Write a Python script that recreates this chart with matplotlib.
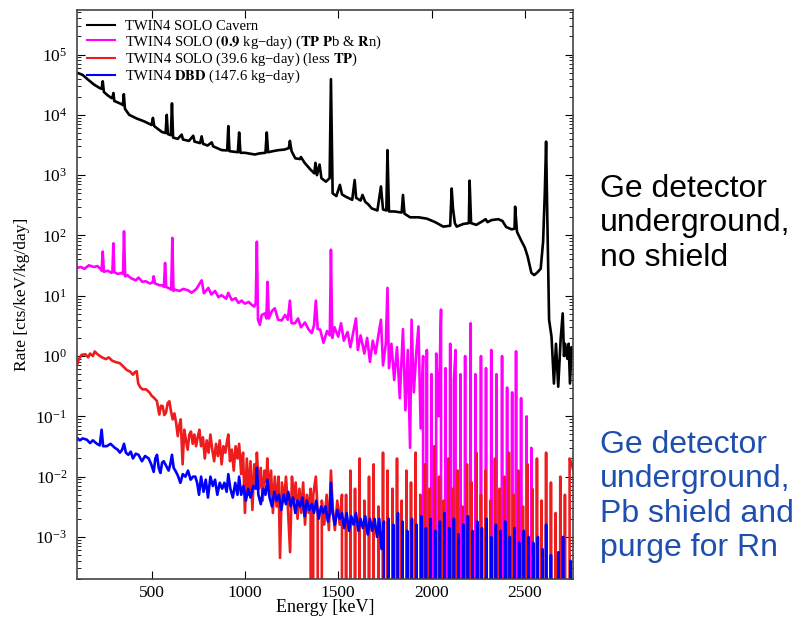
import matplotlib
matplotlib.use("Agg")
import matplotlib.pyplot as plt
import numpy as np

plt.rcParams['font.family'] = 'serif'
plt.rcParams['font.serif'] = ['Liberation Serif', 'DejaVu Serif']
plt.rcParams['mathtext.fontset'] = 'stix'

# --- spectra: energy [keV], rate [cts/keV/kg/day] ---
cavern_e = [100, 130, 161, 190, 220, 232, 238, 244, 265, 285, 290, 295, 300, 320, 340, 346, 351, 357,
            380, 420, 460, 500, 507, 514, 555, 575, 581, 587, 603, 609, 615, 640, 661, 668, 700, 723,
            730, 760, 768, 776, 800, 822, 830, 876, 905, 911, 917, 962, 969, 976, 1000, 1053, 1080,
            1110, 1117, 1124, 1150, 1180, 1210, 1235, 1241, 1250, 1270, 1295, 1300, 1320, 1352, 1372,
            1378, 1386, 1400, 1410, 1434, 1454, 1461, 1470, 1490, 1509, 1520, 1540, 1575, 1588, 1596,
            1620, 1630, 1645, 1660, 1680, 1710, 1729, 1740, 1758, 1764, 1772, 1800, 1840, 1847, 1855,
            1885, 1930, 1975, 2020, 2063, 2100, 2108, 2115, 2125, 2135, 2170, 2200, 2204, 2212, 2240,
            2270, 2290, 2300, 2322, 2358, 2380, 2400, 2430, 2445, 2448, 2458, 2480, 2500, 2515, 2535,
            2550, 2565, 2585, 2598, 2607, 2614, 2620, 2630, 2643, 2656, 2667, 2679, 2692, 2703, 2710,
            2716, 2728, 2735, 2742, 2750, 2760]
cavern_rate = [5.0e4, 4.6e4, 3.8e4, 3.2e4, 2.8e4, 2.7e4, 3.6e4, 2.4e4, 2.1e4, 1.9e4, 1.9e4, 2.3e4, 1.7e4,
               1.6e4, 1.5e4, 1.45e4, 2.2e4, 1.26e4, 1.0e4, 8.7e3, 7.8e3, 6.8e3, 8.9e3, 6.5e3, 5.2e3, 5.0e3,
               1.0e4, 4.8e3, 4.6e3, 1.55e4, 4.2e3, 4.0e3, 4.7e3, 3.9e3, 3.7e3, 4.5e3, 3.6e3, 3.4e3, 4.4e3,
               3.3e3, 3.1e3, 3.5e3, 3.0e3, 2.6e3, 2.57e3, 6.5e3, 2.5e3, 2.4e3, 5.1e3, 2.35e3, 2.35e3, 2.2e3,
               2.3e3, 2.35e3, 5.1e3, 2.4e3, 2.5e3, 2.6e3, 2.65e3, 2.8e3, 3.7e3, 2.5e3, 1.9e3, 1.85e3, 2.0e3,
               1.6e3, 1.23e3, 1.07e3, 1.6e3, 1.0e3, 1.5e3, 8.9e2, 7.8e2, 8.9e2, 3.9e4, 5.0e2, 4.5e2, 6.9e2,
               4.8e2, 4.4e2, 3.9e2, 8.3e2, 4.2e2, 3.8e2, 4.7e2, 3.6e2, 3.3e2, 2.8e2, 2.6e2, 6.5e2, 2.7e2,
               2.6e2, 2.6e3, 2.5e2, 2.5e2, 2.4e2, 4.7e2, 2.3e2, 2.0e2, 2.0e2, 1.9e2, 1.66e2, 1.4e2, 1.45e2,
               6.0e2, 2.8e2, 1.6e2, 1.4e2, 1.55e2, 1.6e2, 8.1e2, 1.6e2, 1.5e2, 1.7e2, 1.86e2, 1.66e2, 1.8e2,
               1.86e2, 1.74e2, 1.38e2, 1.26e2, 1.3e2, 3.0e2, 1.15e2, 83, 63, 45, 24, 22, 24, 28, 79, 5.0e2,
               3.6e3, 2.5e2, 4.0, 2.1, 0.35, 1.6, 0.31, 1.9, 5.1, 1.0, 1.6, 0.9, 1.6, 0.35, 1.4, 1.1]

tp_e = [100, 120, 140, 164, 190, 210, 225, 232, 238, 244, 265, 285, 290, 295, 300, 320, 340, 347, 352,
        358, 370, 390, 415, 430, 450, 468, 490, 505, 511, 518, 540, 560, 566, 572, 578, 600, 605, 611,
        617, 625, 650, 670, 695, 715, 740, 768, 780, 804, 820, 840, 858, 875, 900, 911, 929, 950, 965,
        982, 1000, 1020, 1036, 1050, 1058, 1064, 1070, 1080, 1090, 1107, 1115, 1121, 1128, 1145, 1160,
        1178, 1197, 1215, 1230, 1241, 1250, 1268, 1285, 1300, 1322, 1340, 1358, 1370, 1380, 1390, 1403,
        1421, 1440, 1455, 1461, 1468, 1480, 1500, 1515, 1530, 1550, 1565, 1580, 1595, 1605, 1620, 1640,
        1655, 1670, 1685, 1700, 1715, 1729, 1740, 1755, 1764, 1772, 1785, 1800, 1815, 1830, 1847, 1860,
        1873, 1885, 1893, 1905, 1918, 1930, 1942, 1955, 1965, 1975, 1990, 2000, 2012, 2025, 2038, 2051,
        2062, 2075, 2088, 2100, 2110, 2120, 2129, 2140, 2155, 2168, 2180, 2195, 2210, 2222, 2235, 2250,
        2265, 2278, 2292, 2305, 2320, 2335, 2348, 2362, 2378, 2392, 2405, 2418, 2432, 2445, 2453, 2462,
        2480, 2495, 2510, 2522, 2535, 2548, 2760]
tp_rate = [29, 30, 28, 32, 30, 31, 28, 26, 54, 25, 26, 24, 25, 74, 24.5, 23, 24, 23, 117, 21, 22, 19.5,
           18, 20, 17, 17.4, 16, 16.6, 21, 16, 15, 14.8, 14, 35, 14, 13, 12.6, 91, 12, 12.6, 12, 13, 12.3,
           11.2, 13, 18, 11, 13.5, 10.5, 12, 9.5, 10.2, 8.9, 11.2, 8.5, 9.1, 7.6, 8.3, 7.4, 7.9, 7.1, 6.6,
           7.6, 79, 4.0, 3.3, 4.8, 5.1, 4.2, 17, 4.2, 5.6, 6.2, 4.0, 3.9, 4.8, 4.0, 8.3, 3.5, 3.5, 4.2, 3.0,
           3.6, 2.8, 2.4, 3.2, 8.3, 2.8, 2.75, 1.66, 2.6, 2.2, 58, 2.0, 3.0, 2.1, 3.5, 1.8, 2.5, 1.4, 2.4,
           4.2, 1.26, 2.2, 1.1, 2.0, 0.8, 1.8, 1.1, 2.2, 4.0, 0.7, 1.6, 13.5, 0.63, 1.6, 0.4, 1.4, 0.2, 2.8,
           0.126, 1.26, 0.03, 4.0, 0.25, 1.1, 3.1, 0.063, 1.0, 0, 1.26, 0, 0.5, 0, 1.1, 0.1, 5.9, 0, 0.63,
           0, 1.6, 0, 0.4, 1.26, 0, 0.5, 0, 1.0, 0, 3.5, 0, 0.5, 0, 1.0, 0, 0.63, 0, 1.26, 0, 0.5, 0, 1.0,
           0, 0.3, 0, 0.25, 0, 1.2, 0, 0.2, 0, 0.1, 0, 0.03, 0, 0]

solo_e = [100, 110, 125, 145, 160, 170, 185, 195, 210, 223, 240, 255, 270, 290, 310, 330, 350, 366, 385,
          400, 410, 420, 428, 440, 452, 470, 488, 500, 515, 528, 541, 550, 559, 568, 577, 586, 595, 604,
          613, 622, 631, 640, 648, 656, 666, 675, 684, 693, 702, 711, 720, 729, 738, 747, 756, 765, 775,
          785, 795, 805, 815, 825, 835, 845, 855, 865, 875, 885, 895, 905, 911, 920, 930, 940, 950, 960,
          969, 980, 990, 1000, 1010, 1020, 1030, 1040, 1050, 1060, 1064, 1075, 1085, 1095, 1105, 1115,
          1120, 1130, 1140, 1150, 1160, 1170, 1180, 1188, 1198, 1210, 1220, 1230, 1242, 1252, 1262, 1272,
          1282, 1292, 1302, 1312, 1322, 1332, 1342, 1352, 1358, 1366, 1380, 1390, 1402, 1412, 1425, 1438,
          1450, 1461, 1470, 1482, 1495, 1508, 1520, 1530, 1542, 1555, 1565, 1578, 1590, 1602, 1615, 1628,
          1640, 1652, 1665, 1678, 1690, 1702, 1715, 1728, 1740, 1752, 1764, 1776, 1790, 1802, 1815, 1828,
          1840, 1852, 1865, 1878, 1890, 1902, 1915, 1928, 1940, 1952, 1965, 1978, 1990, 2002, 2015, 2028,
          2040, 2052, 2065, 2078, 2090, 2102, 2115, 2128, 2140, 2152, 2165, 2178, 2190, 2202, 2215, 2228,
          2240, 2252, 2265, 2278, 2290, 2302, 2315, 2328, 2340, 2352, 2365, 2378, 2390, 2402, 2415, 2428,
          2440, 2452, 2465, 2478, 2490, 2502, 2515, 2528, 2540, 2552, 2565, 2578, 2590, 2602, 2614, 2626,
          2640, 2652, 2665, 2678, 2690, 2702, 2715, 2728, 2740, 2752, 2760]
solo_rate = [0.71, 0.89, 1.05, 1.07, 0.95, 1.1, 1.0, 1.19, 1.07, 1.0, 0.93, 0.89, 0.95, 0.83, 0.79, 0.76,
             0.66, 0.59, 0.55, 0.49, 0.54, 0.56, 0.35, 0.30, 0.28, 0.28, 0.25, 0.22, 0.20, 0.18, 0.107,
             0.15, 0.148, 0.105, 0.115, 0.166, 0.178, 0.12, 0.089, 0.112, 0.079, 0.047, 0.071, 0.089,
             0.016, 0.06, 0.04, 0.028, 0.05, 0.056, 0.035, 0.05, 0.032, 0.045, 0.06, 0.032, 0.045, 0.02,
             0.04, 0.025, 0.05, 0.028, 0.018, 0.035, 0.022, 0.04, 0.016, 0.032, 0.025, 0.04, 0.05, 0.018,
             0.028, 0.0126, 0.032, 0.02, 0.035, 0.011, 0.025, 0.0025, 0.02, 0.005, 0.018, 0.0028, 0.016,
             0.01, 0.025, 0.0063, 0.014, 0.004, 0.0126, 0.008, 0.02, 0.005, 0.0126, 0.0025, 0.01, 0.0032,
             0.01, 4.5e-4, 0.008, 0.004, 0.01, 0.0032, 5.6e-4, 0.01, 0.004, 0.008, 0.002, 0.0063, 0.0025,
             0.008, 0.0016, 0.005, 0.0025, 0.0063, 0, 0.005, 0.01, 0.0025, 0, 0.004, 0.0016, 0.005, 0.0013,
             0.0126, 0.0032, 0.0013, 0.004, 0.0016, 0.005, 0, 0.005, 0, 0.0126, 0, 0.0063, 0, 0.02, 0,
             0.004, 0, 0.01, 0, 0.016, 0, 0.0032, 0, 0.025, 0, 0.0126, 0, 0.0063, 0, 0.02, 0, 0.004, 0,
             0.0126, 0, 0.008, 0, 0.025, 0, 0.005, 0, 0.016, 0, 0.0063, 0, 0.032, 0, 0.01, 0, 0.004, 0,
             0.02, 0, 0.0063, 0, 0.0126, 0, 0.0032, 0, 0.016, 0, 0.008, 0, 0.025, 0, 0.005, 0, 0.0126, 0,
             0.004, 0, 0.02, 0, 0.0063, 0, 0.01, 0, 0.025, 0, 0.005, 0, 0.0126, 0, 0.0032, 0, 0.016, 0,
             0.0063, 0, 0.02, 0, 0.004, 0, 0.025, 0, 0.008, 0, 0.0025, 0, 0.01, 0, 0.005, 0, 0.02, 0.016,
             0.0126]

dbd_e = [100, 115, 130, 153, 170, 185, 207, 222, 232, 240, 259, 280, 303, 318, 330, 342, 352, 362, 375,
         388, 400, 415, 430, 448, 465, 484, 498, 511, 520, 529, 538, 547, 556, 565, 578, 591, 600, 609,
         618, 627, 640, 654, 667, 681, 695, 709, 722, 734, 744, 754, 765, 778, 790, 802, 815, 828, 840,
         852, 865, 878, 890, 902, 911, 922, 935, 948, 960, 969, 980, 992, 1005, 1018, 1030, 1045, 1058,
         1064, 1072, 1085, 1098, 1110, 1120, 1132, 1145, 1158, 1170, 1182, 1195, 1208, 1220, 1232, 1245,
         1258, 1270, 1282, 1295, 1308, 1320, 1332, 1345, 1358, 1370, 1382, 1395, 1408, 1420, 1432, 1445,
         1455, 1461, 1470, 1482, 1495, 1508, 1520, 1532, 1545, 1558, 1570, 1582, 1595, 1608, 1620, 1632,
         1645, 1658, 1670, 1682, 1695, 1708, 1720, 1732, 1745, 1758, 1770, 1782, 1795, 1808, 1820, 1832,
         1845, 1858, 1870, 1882, 1895, 1908, 1920, 1932, 1945, 1958, 1970, 1982, 1995, 2008, 2020, 2032,
         2045, 2058, 2070, 2082, 2095, 2108, 2120, 2132, 2145, 2158, 2170, 2182, 2195, 2208, 2220, 2232,
         2245, 2258, 2270, 2282, 2295, 2308, 2320, 2332, 2345, 2358, 2370, 2382, 2395, 2408, 2420, 2432,
         2445, 2458, 2470, 2482, 2495, 2508, 2520, 2532, 2545, 2558, 2570, 2582, 2595, 2608, 2614, 2625,
         2640, 2652, 2665, 2680, 2692, 2705, 2718, 2730, 2745, 2760]
dbd_rate = [0.044, 0.040, 0.043, 0.041, 0.036, 0.040, 0.035, 0.033, 0.060, 0.032, 0.032, 0.035, 0.030,
            0.028, 0.025, 0.028, 0.035, 0.025, 0.023, 0.026, 0.020, 0.024, 0.023, 0.018, 0.022, 0.020,
            0.016, 0.012, 0.020, 0.023, 0.014, 0.0115, 0.017, 0.018, 0.015, 0.0126, 0.016, 0.023, 0.014,
            0.0126, 0.0105, 0.0079, 0.011, 0.010, 0.0126, 0.0089, 0.010, 0.010, 0.0079, 0.005, 0.010,
            0.0056, 0.0089, 0.0045, 0.010, 0.007, 0.0089, 0.005, 0.0079, 0.0063, 0.0079, 0.0056, 0.011,
            0.0063, 0.0045, 0.0079, 0.005, 0.010, 0.005, 0.007, 0.004, 0.0063, 0.0045, 0.007, 0.0063,
            0.014, 0.005, 0.0035, 0.0063, 0.005, 0.0089, 0.0045, 0.0032, 0.0056, 0.004, 0.005, 0.0028,
            0.005, 0.0035, 0.0056, 0.0032, 0.0045, 0.0025, 0.004, 0.0032, 0.0045, 0.0022, 0.004, 0.0028,
            0.0035, 0.0025, 0.004, 0.002, 0.0032, 0.0025, 0.0032, 0.0018, 0.0025, 0.0079, 0.0025, 0.0016,
            0.0028, 0.002, 0.0025, 0.0014, 0.0025, 0.00126, 0.0022, 0.0016, 0.0025, 0.00126, 0.002,
            0.0014, 0.0022, 0.0011, 0.002, 0.00126, 0.002, 0.001, 0.002, 6.3e-4, 0.0018, 0, 0.002, 0,
            0.0016, 0, 0.0025, 0, 0.0018, 0, 0.00126, 0, 0.002, 0, 0.0016, 0, 0.0022, 0, 0.0014, 0, 0.002,
            0, 0.00126, 0, 0.0018, 0, 0.0025, 0, 0.0014, 0, 0.002, 0, 0.0011, 0, 0.0016, 0, 0.0022, 0,
            0.00126, 0, 0.0018, 0, 0.0014, 0, 0.002, 0, 0.001, 0, 0.0016, 0, 0.00126, 0, 0.0018, 0, 0.001,
            0, 0.0014, 0, 8e-4, 0, 0.00126, 0, 0.001, 0, 8e-4, 0, 0.001, 0, 6.3e-4, 0, 0.0016, 0, 5e-4, 0,
            0, 5.6e-4, 0, 0.001, 0, 0, 4e-4, 0]

labels = ['TWIN4 SOLO Cavern',
          'TWIN4 SOLO ($\\mathbf{0.9}$ kg\u2212day) ($\\mathbf{TP}$ $\\mathbf{P}$b & $\\mathbf{R}$n)',
          'TWIN4 SOLO (39.6 kg\u2212day) (less $\\mathbf{TP}$)',
          'TWIN4 $\\mathbf{DBD}$ (147.6 kg\u2212day)']
colors = ['black', '#ff00ff', '#ee1c1c', '#0000ff']
y_ticks = [1e-3, 1e-2, 1e-1, 1e0, 1e1, 1e2, 1e3, 1e4, 1e5]

fig = plt.figure(figsize=(7.97, 6.2), dpi=100)
ax = fig.add_axes([0.0966, 0.066, 0.6223, 0.918])

series = [(cavern_e, cavern_rate), (tp_e, tp_rate), (solo_e, solo_rate), (dbd_e, dbd_rate)]
for (e, r), c, lab in zip(series, colors, labels):
    ax.plot(e, r, color=c, lw=1.9, label=lab)

ax.set_yscale('log', nonpositive='clip')
ax.set_yticks(y_ticks)
ax.set_xlim(100, 2758)
ax.set_ylim(2.0e-4, 5.5e5)
ax.set_xticks([500, 1000, 1500, 2000, 2500])
ax.tick_params(which='both', direction='in', top=True, right=True, labelsize=12.5)
ax.tick_params(which='major', length=6, width=0.8)
ax.tick_params(axis='x', which='major', pad=4)
ax.tick_params(axis='y', which='major', pad=7)
ax.tick_params(which='minor', length=3, width=0.6)
for s in ax.spines.values():
    s.set_linewidth(1.2)
    s.set_color('#444444')

ax.set_xlabel('Energy [keV]', fontsize=13, labelpad=-1)
ax.set_ylabel('Rate [cts/keV/kg/day]', fontsize=12.5, labelpad=4)

leg = ax.legend(loc='upper left', frameon=False, fontsize=10.5, handlelength=1.9,
                handletextpad=0.7, labelspacing=0.0, borderaxespad=0.3,
                bbox_to_anchor=(0.0, 1.0))
for h in leg.get_lines():
    h.set_linewidth(1.5)

fig.text(0.753, 0.72, 'Ge detector\nunderground,\nno shield', family='Liberation Sans',
         fontsize=23, color='black', va='top', ha='left', linespacing=1.2)
fig.text(0.753, 0.307, 'Ge detector\nunderground,\nPb shield and\npurge for Rn', family='Liberation Sans',
         fontsize=23, color='#1f4fae', va='top', ha='left', linespacing=1.2)

fig.savefig('out.png', dpi=100)
